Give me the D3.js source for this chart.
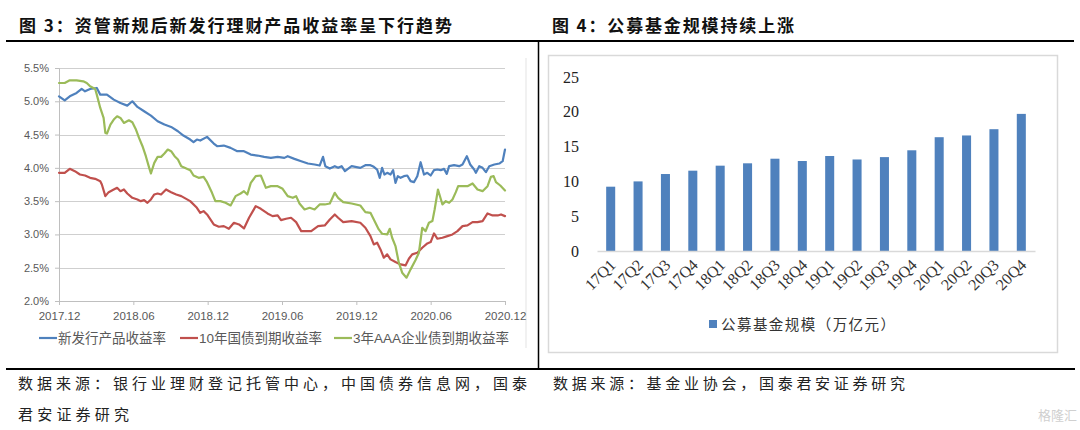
<!DOCTYPE html>
<html><head><meta charset="utf-8">
<script src="https://cdn.jsdelivr.net/npm/d3@7"></script>
<style>body{margin:0;background:#fff} svg{display:block}</style>
</head><body>
<svg id="c" width="1080" height="430"></svg>
<script>
// ---------- Left chart data (x = months since 2017.12) ----------
const xTickMonths = [0, 6, 12, 18, 24, 30, 36];
const xTickLabels = ["2017.12", "2018.06", "2018.12", "2019.06", "2019.12", "2020.06", "2020.12"];
const yTicksLeft = [2.0, 2.5, 3.0, 3.5, 4.0, 4.5, 5.0, 5.5];
const seriesNames = ["新发行产品收益率", "10年国债到期收益率", "3年AAA企业债到期收益率"];
const seriesColors = ["#4F81BD", "#C0504D", "#9BBB59"];

const newIssueMonths = [0,0.46,0.87,1.42,1.83,2.10,2.51,3.05,3.33,3.87,4.42,4.96,5.51,5.92,6.33,6.87,7.42,7.96,8.51,9.05,9.60,
 10.04,10.59,10.86,11.13,11.40,11.95,12.49,12.76,13.30,13.85,14.39,14.93,15.48,16.02,16.56,17.10,17.65,18.19,18.46,19.00,19.55,20.09,20.63,21.04,21.31,21.50,21.86,22.26,22.53,22.81,23.08,23.62,
 24.32,24.73,25.14,25.41,25.68,25.89,26.08,26.27,26.49,26.76,26.97,27.16,27.35,27.57,27.84,28.11,28.38,28.65,28.92,29.19,29.46,29.73,30.00,30.27,30.54,30.81,31.08,31.30,31.49,31.89,32.30,32.57,32.92,33.19,33.51,33.65,33.92,34.19,34.46,34.73,35.14,35.54,35.81,36.0];
const newIssueYield = [5.075,5.015,5.075,5.125,5.185,5.15,5.185,5.20,5.10,5.10,5.025,4.975,4.935,5.00,4.915,4.85,4.785,4.70,4.65,4.615,4.55,
 4.485,4.425,4.385,4.425,4.41,4.465,4.365,4.325,4.335,4.30,4.25,4.25,4.20,4.185,4.165,4.15,4.165,4.15,4.175,4.135,4.10,4.065,4.05,4.035,4.165,4.025,3.99,4.025,4.00,4.025,3.95,4.025,
 4.00,4.04,4.04,4.015,3.975,3.85,4.00,3.90,3.925,3.90,3.965,3.775,3.875,3.85,3.875,3.885,3.80,3.785,3.875,4.085,3.90,3.925,3.885,3.965,3.975,3.965,3.985,3.91,4.025,4.04,4.025,4.05,4.175,4.05,3.975,3.925,4.025,4.00,3.935,4.025,4.05,4.065,4.10,4.275];

const cgb10Months = [0,0.46,0.87,1.28,1.69,2.10,2.51,2.92,3.33,3.46,3.74,4.01,4.42,4.69,4.96,5.24,5.51,5.92,6.33,6.60,6.87,7.14,7.42,7.69,7.96,8.24,8.64,9.05,9.46,9.87,
 10.59,11.13,11.40,11.67,11.95,12.49,12.90,13.30,13.71,14.12,14.53,14.93,15.34,15.88,16.29,16.83,17.24,17.65,17.92,18.33,18.73,19.14,19.55,19.96,20.36,20.91,21.45,21.86,22.26,22.53,22.94,23.62,
 24.32,24.73,25.14,25.41,25.68,25.95,26.22,26.49,26.76,27.16,27.57,27.97,28.24,28.51,28.92,29.32,29.73,30.00,30.27,30.54,30.95,31.35,31.76,32.16,32.57,32.97,33.38,33.78,34.19,34.59,35.00,35.41,35.68,36.0];
const cgb10Yield = [3.925,3.925,3.985,3.95,3.90,3.885,3.85,3.835,3.80,3.75,3.575,3.635,3.675,3.70,3.65,3.675,3.615,3.55,3.525,3.50,3.515,3.475,3.525,3.60,3.615,3.60,3.675,3.635,3.60,3.575,
 3.50,3.40,3.325,3.35,3.30,3.15,3.115,3.125,3.085,3.175,3.15,3.09,3.25,3.425,3.385,3.315,3.275,3.285,3.215,3.235,3.25,3.185,3.05,3.05,3.05,3.125,3.135,3.225,3.30,3.25,3.185,3.20,
 3.175,3.10,2.975,2.85,2.875,2.775,2.65,2.70,2.625,2.585,2.55,2.535,2.635,2.70,2.725,2.80,2.865,2.885,3.015,2.935,2.95,2.975,3.00,3.05,3.125,3.135,3.185,3.185,3.20,3.315,3.285,3.285,3.30,3.275];

const aaa3Months = [0,0.46,0.87,1.42,1.96,2.24,2.51,2.92,3.05,3.33,3.60,3.74,3.87,4.15,4.42,4.69,4.96,5.24,5.64,5.92,6.19,6.46,6.74,7.01,7.28,7.42,7.69,7.96,8.24,8.51,8.78,9.05,9.33,9.60,9.87,
 10.59,10.86,11.27,11.67,11.95,12.35,12.62,13.03,13.44,13.85,14.25,14.66,14.93,15.20,15.48,15.88,16.29,16.70,17.10,17.65,18.05,18.46,18.87,19.14,19.41,19.82,20.23,20.63,21.04,21.45,21.86,22.26,22.53,22.94,23.62,
 24.32,24.73,25.14,25.41,25.81,26.08,26.49,26.70,26.89,27.16,27.43,27.70,28.05,28.38,28.78,29.05,29.32,29.59,29.86,30.14,30.32,30.59,30.95,31.22,31.49,31.76,32.03,32.22,32.57,32.97,33.38,33.78,34.19,34.59,34.86,35.08,35.27,35.62,36.0];
const aaa3Yield = [5.275,5.275,5.315,5.315,5.30,5.275,5.225,5.185,5.10,4.90,4.75,4.525,4.515,4.65,4.725,4.775,4.75,4.675,4.715,4.685,4.585,4.45,4.325,4.175,4.00,3.915,4.075,4.165,4.165,4.215,4.275,4.25,4.175,4.125,4.025,
 3.965,3.885,3.85,3.865,3.785,3.625,3.50,3.50,3.475,3.435,3.575,3.615,3.65,3.60,3.775,3.875,3.885,3.70,3.725,3.725,3.685,3.575,3.55,3.575,3.465,3.375,3.40,3.375,3.45,3.45,3.465,3.625,3.55,3.485,3.465,
 3.435,3.335,3.325,3.225,3.075,3.01,3.00,3.085,2.95,2.825,2.575,2.425,2.35,2.475,2.615,2.725,3.10,3.05,3.175,3.20,3.375,3.675,3.45,3.50,3.475,3.525,3.635,3.725,3.725,3.725,3.765,3.675,3.65,3.725,3.865,3.875,3.785,3.735,3.66];

// ---------- Right chart data ----------
const quarters = ["17Q1","17Q2","17Q3","17Q4","18Q1","18Q2","18Q3","18Q4","19Q1","19Q2","19Q3","19Q4","20Q1","20Q2","20Q3","20Q4"];
const fundSize = [9.24,10.0,11.06,11.54,12.26,12.6,13.26,12.93,13.65,13.15,13.49,14.47,16.35,16.6,17.5,19.7];
const yTicksRight = [0,5,10,15,20,25];
const barLegend = "公募基金规模（万亿元）";

const svg = d3.select("#c");
const CJK = "'Noto Sans CJK SC', sans-serif";
const SANS = "'Liberation Sans', 'Noto Sans CJK SC', sans-serif";
const SERIF = "'Liberation Serif', 'Noto Sans CJK SC', serif";

// ---------- Titles & frame ----------
svg.append("text").attr("x", 19).attr("y", 32).attr("font-family", CJK).attr("font-weight", "bold")
  .attr("font-size", 17).attr("fill", "#111").attr("textLength", 433).attr("lengthAdjust", "spacing")
  .text("图 3：资管新规后新发行理财产品收益率呈下行趋势");
svg.append("text").attr("x", 552).attr("y", 32).attr("font-family", CJK).attr("font-weight", "bold")
  .attr("font-size", 17).attr("fill", "#111").attr("textLength", 242).attr("lengthAdjust", "spacing")
  .text("图 4：公募基金规模持续上涨");

const frame = svg.append("g").attr("stroke", "#000");
frame.append("line").attr("x1", 6).attr("x2", 1074).attr("y1", 41).attr("y2", 41).attr("stroke-width", 2);
frame.append("line").attr("x1", 6).attr("x2", 1075).attr("y1", 369).attr("y2", 369).attr("stroke-width", 2);
frame.append("line").attr("x1", 538.5).attr("x2", 538.5).attr("y1", 41).attr("y2", 369).attr("stroke-width", 1.5);

// left chart faint border line
svg.append("line").attr("x1", 526).attr("x2", 526).attr("y1", 58).attr("y2", 348).attr("stroke", "#e3e3e3");

// ---------- Left chart ----------
const xL = d3.scaleLinear().domain([0, 36]).range([59, 505]);
const yL = d3.scaleLinear().domain([2.0, 5.5]).range([301, 68]);

const gridG = svg.append("g");
gridG.selectAll("line").data(yTicksLeft.filter(d => d > 2.0)).join("line")
  .attr("x1", xL(0)).attr("x2", xL(36)).attr("y1", d => Math.round(yL(d)) + 0.5).attr("y2", d => Math.round(yL(d)) + 0.5)
  .attr("stroke", "#cfcfcf").attr("stroke-width", 1);

const yAxisL = svg.append("g").attr("transform", `translate(${xL(0)},0)`)
  .call(d3.axisLeft(yL).tickValues(yTicksLeft).tickSize(4).tickPadding(6).tickFormat(d => d.toFixed(1) + "%"));
yAxisL.selectAll("path, line").attr("stroke", "#bfbfbf");
yAxisL.selectAll("text").attr("font-family", SANS).attr("font-size", 11).attr("fill", "#595959");

const xAxisL = svg.append("g").attr("transform", `translate(0,${yL(2.0)})`)
  .call(d3.axisBottom(xL).tickValues(xTickMonths).tickSize(4).tickPadding(7).tickFormat((d, i) => xTickLabels[i]));
xAxisL.selectAll("path, line").attr("stroke", "#bfbfbf");
xAxisL.selectAll("text").attr("font-family", SANS).attr("font-size", 11.5).attr("fill", "#595959");

const seriesData = [
  d3.zip(newIssueMonths, newIssueYield),
  d3.zip(cgb10Months, cgb10Yield),
  d3.zip(aaa3Months, aaa3Yield)
];
const lineGen = d3.line().x(d => xL(d[0])).y(d => yL(d[1]));
svg.append("g").selectAll("path").data(seriesData).join("path")
  .attr("d", lineGen).attr("fill", "none")
  .attr("stroke", (d, i) => seriesColors[i]).attr("stroke-width", 2.2)
  .attr("stroke-linejoin", "round").attr("stroke-linecap", "round");

// legend
const legX = [39, 180, 334];
const leg = svg.append("g");
seriesNames.forEach((name, i) => {
  const g = leg.append("g").attr("transform", `translate(${legX[i]},338)`);
  g.append("line").attr("x1", 0).attr("x2", 18).attr("y1", 0).attr("y2", 0)
    .attr("stroke", seriesColors[i]).attr("stroke-width", 2.2);
  g.append("text").attr("x", 19).attr("y", 5).attr("font-family", SANS).attr("font-size", 13.5)
    .attr("fill", "#595959").text(name);
});

// ---------- Right chart ----------
svg.append("rect").attr("x", 548.5).attr("y", 55.5).attr("width", 509).attr("height", 297)
  .attr("fill", "none").attr("stroke", "#d9d9d9").attr("stroke-width", 1.5);

const xR = d3.scaleBand().domain(quarters).range([597, 1035]).paddingInner(0.67).paddingOuter(0.335);
const yR = d3.scaleLinear().domain([0, 25]).range([251, 77]);

const yAxisR = svg.append("g").attr("transform", "translate(582,0)")
  .call(d3.axisLeft(yR).tickValues(yTicksRight).tickSize(0).tickPadding(3));
yAxisR.select(".domain").remove();
yAxisR.selectAll("text").attr("font-family", SERIF).attr("font-size", 16).attr("fill", "#222");

svg.append("g").selectAll("rect").data(quarters).join("rect")
  .attr("x", d => xR(d)).attr("width", xR.bandwidth())
  .attr("y", (d, i) => yR(fundSize[i])).attr("height", (d, i) => yR(0) - yR(fundSize[i]))
  .attr("fill", "#4F81BD");

const xAxisR = svg.append("g").attr("transform", `translate(0,${yR(0)})`)
  .call(d3.axisBottom(xR).tickSize(0).tickPadding(0));
xAxisR.select(".domain").attr("stroke", "#d9d9d9").attr("stroke-width", 1.5);
xAxisR.selectAll("text").attr("font-family", SERIF).attr("font-size", 16).attr("fill", "#333")
  .attr("text-anchor", "end").attr("dy", 0)
  .attr("transform", "translate(6,15) rotate(-45)");

// legend right
svg.append("rect").attr("x", 709).attr("y", 320).attr("width", 8).attr("height", 8).attr("fill", "#4F81BD");
svg.append("text").attr("x", 721).attr("y", 330).attr("font-family", CJK).attr("font-size", 14.5)
  .attr("fill", "#333").attr("textLength", 174).attr("lengthAdjust", "spacing").text(barLegend);

// ---------- Sources ----------
svg.append("text").attr("x", 18).attr("y", 389).attr("font-family", CJK).attr("font-size", 15)
  .attr("fill", "#222").attr("textLength", 509).attr("lengthAdjust", "spacing")
  .text("数据来源：银行业理财登记托管中心，中国债券信息网，国泰");
svg.append("text").attr("x", 18).attr("y", 420).attr("font-family", CJK).attr("font-size", 15)
  .attr("fill", "#222").attr("textLength", 111).attr("lengthAdjust", "spacing")
  .text("君安证券研究");
svg.append("text").attr("x", 553).attr("y", 389).attr("font-family", CJK).attr("font-size", 15)
  .attr("fill", "#222").attr("textLength", 352).attr("lengthAdjust", "spacing")
  .text("数据来源：基金业协会，国泰君安证券研究");
svg.append("text").attr("x", 1077).attr("y", 420).attr("text-anchor", "end").attr("font-family", CJK)
  .attr("font-size", 13).attr("fill", "#d0d0d0").text("格隆汇");
</script>
</body></html>
